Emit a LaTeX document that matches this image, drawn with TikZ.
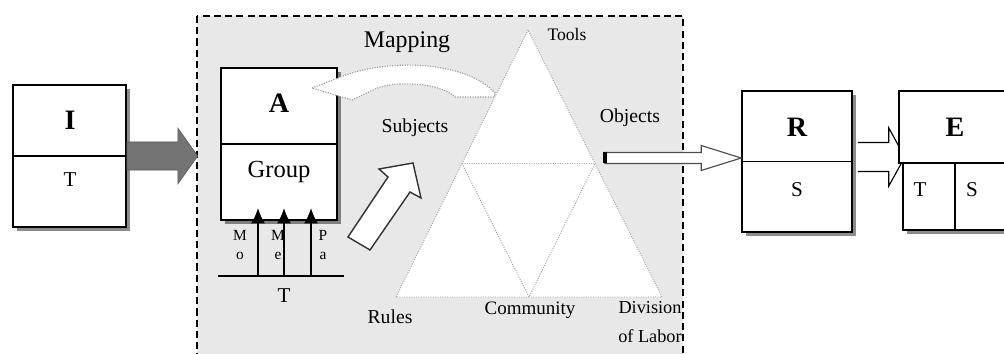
\documentclass[tikz,border=0pt]{standalone}
\usepackage{fontspec}
\setmainfont{Liberation Serif}
\usetikzlibrary{shadows,calc,arrows.meta}

\begin{document}
\begin{tikzpicture}[x=0.025cm,y=-0.025cm,
  box/.style={draw,line width=1.1pt,fill=white,inner sep=0pt,drop shadow={shadow xshift=0.1cm,shadow yshift=-0.1cm,fill=black,opacity=0.45}},
  big/.style={font=\fontsize{20}{22}\selectfont\bfseries},
  mid/.style={font=\fontsize{15}{17}\selectfont},
  lab/.style={font=\fontsize{14}{15.5}\selectfont,align=center},
  tiny/.style={font=\fontsize{11}{14}\selectfont,align=center,inner sep=0pt},
  tri/.style={draw=gray!70,densely dotted,line width=0.7pt},
  hollow/.style={draw=black!70,line width=0.8pt,fill=white}]
\useasboundingbox (0,0) rectangle (1004,354);
\draw[line width=1pt,dash pattern=on 5pt off 3pt,fill=black!9] (197,16) rectangle (683,380);

\node (Ibox) at (69.5,156) [box,minimum width=2.825cm,minimum height=3.55cm]{};
\node (Abox) at (279,144) [box,minimum width=2.9cm,minimum height=3.8cm]{};
\draw[line width=1.1pt] (Ibox.west)--(Ibox.east);
\draw[line width=1.1pt] (Abox.west)--(Abox.east);

\draw[fill=black!55,draw=black!65] ($(Ibox.east)+(0,-14)$) -- ++(51,0) -- ++(0,-14) -- ++(20,28) -- ++(-20,28) -- ++(0,-14) -- ++(-51,0) -- cycle;

\coordinate (tTop) at (528,30);
\coordinate (tLeft) at (396,297);
\coordinate (tRight) at (662,297);
\coordinate (tLm) at ($(tTop)!0.5!(tLeft)$);
\coordinate (tRm) at ($(tTop)!0.5!(tRight)$);
\coordinate (tBm) at ($(tLeft)!0.5!(tRight)$);
\draw[tri,fill=white] (tTop) -- (tLeft) -- (tRight) -- cycle;
\draw[tri] (tLm) -- (tRm) -- (tBm) -- cycle;

\draw[fill=white,draw=gray!80,densely dotted,line width=0.8pt] (312,88) -- (338,78) .. controls (385,58) and (465,60) .. (495,93) -- (494,97) -- (455,97) .. controls (440,82) and (390,80) .. (373,90) -- (352,100) -- cycle;

\draw[hollow,draw=black!80,line width=1pt] (413,163) -- (421,198) -- (410,192) -- (370,250) -- (348,237) -- (388,177) -- (379,169) -- cycle;

\node (Rbox) at (797,161.5) [box,minimum width=2.75cm,minimum height=3.525cm]{};
\draw[line width=1.1pt] (Rbox.west)--(Rbox.east);

\coordinate (oStart) at (605,158);
\coordinate (oTip) at (Rbox.west |- oStart);
\draw[hollow] ($(oStart)+(0,-5.5)$) -- ($(oTip)+(-40,-5.5)$) -- ($(oTip)+(-40,-12.5)$) -- (oTip) -- ($(oTip)+(-40,12.5)$) -- ($(oTip)+(-40,5.5)$) -- ($(oStart)+(0,5.5)$) -- cycle;
\draw[line width=2.2pt] ($(oStart)+(0,-5.5)$) -- ($(oStart)+(0,5.5)$);

\draw[fill=white,draw=black,line width=0.8pt] ($(Rbox.east)+(5,-19)$) -- ++(31,0) -- ++(0,-14.5) -- ++(16,29) -- ++(-16,29) -- ++(0,-14.5) -- ++(-31,0);

\node (Ebox) at (955.5,127) [box,minimum width=2.825cm,minimum height=1.8cm]{};
\node (Etbox) at (929,196.5) [box,minimum width=1.3cm,minimum height=1.675cm]{};
\node (Esbox) at (983.5,196.5) [box,minimum width=1.425cm,minimum height=1.675cm]{};

\draw[line width=1.2pt] (218,276) -- (344,276);
\foreach \x in {258,284,311}
  \draw[-{Latex[length=11pt,width=10pt]},line width=1.3pt] (\x,276) -- (\x,208);

\node[big] (Ilab) at (70,120) {I};
\node[mid] (Tlab) at (70,180) {T};
\node[big] (Alab) at (279,103) {A};
\node[font=\fontsize{17.5}{20}\selectfont] (grp) at (279,172) {Group};
\node[tiny] (mo) at (240,245) {M\\o};
\node[tiny] (me) at (278,245) {M\\e};
\node[tiny] (pa) at (323,245) {P\\a};
\node[mid] (tb) at (284,296) {T};
\node[font=\fontsize{17}{20}\selectfont] (map) at (407,42) {Mapping};
\node[lab,font=\fontsize{12.5}{14}\selectfont] (tools) at (567,34) {Tools};
\node[lab] (obj) at (630,118) {Objects};
\node[lab] (subj) at (415,128) {Subjects};
\node[lab] (rules) at (390,317) {Rules};
\node[lab,font=\fontsize{13.5}{15}\selectfont] (comm) at (530,310) {Community};
\node[lab,font=\fontsize{13}{21}\selectfont] (div) at (650,322) {Division\\of Labor};
\node[big] (Rlab) at (797,127) {R};
\node[mid] (Slab) at (797,190) {S};
\node[big] (Elab) at (955,127) {E};
\node[mid] (ETlab) at (920,190) {T};
\node[mid] (ESlab) at (972,190) {S};
\end{tikzpicture}
\end{document}
